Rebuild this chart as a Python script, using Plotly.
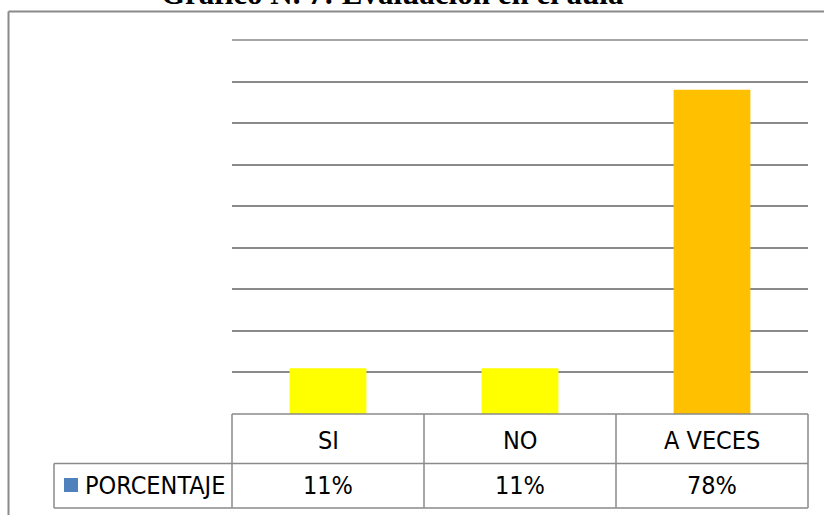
import plotly.graph_objects as go

# datos del grafico
categorias = ["SI", "NO", "A VECES"]
porcentaje = [0.11, 0.11, 0.78]
colores = ["#FFFF00", "#FFFF00", "#FFC000"]
serie = "PORCENTAJE"
titulo = "Gráfico N. 7: Evaluación en el aula"

W, H = 824, 515
L, R, T, B = 232, 808, 40, 414  # plot area in pixels

def px(x):
    return (x - L) / (R - L)

def py(y):
    return (B - y) / (B - T)

narrow = "Liberation Sans Narrow, DejaVu Sans Condensed, Arial Narrow, sans-serif"
gris = "#8a8a8a"

fig = go.Figure(go.Bar(x=categorias, y=porcentaje, marker_color=colores,
                       marker_line_width=0, hoverinfo="none", showlegend=False))

shapes = []
def linea(x0, y0, x1, y1, w=1.5):
    shapes.append(dict(type="line", xref="paper", yref="paper",
                       x0=px(x0), y0=py(y0), x1=px(x1), y1=py(y1),
                       line=dict(color=gris, width=w)))

# marco exterior
linea(8.5, 11.5, 830, 11.5, 2)
linea(8.5, 11.5, 8.5, 530, 2)

# linea superior (0.9)
linea(L, T, R, T)

# tabla de datos
linea(L, B, R, B)
linea(54, 463.5, R, 463.5)
linea(54, 508, R, 508)
linea(54, 463.5, 54, 508)
for x in [L, 424, 616, R]:
    linea(x, B, x, 508)

# cuadro de leyenda
shapes.append(dict(type="rect", xref="paper", yref="paper",
                   x0=px(64), x1=px(78), y0=py(478), y1=py(492),
                   fillcolor="#4F81BD", line_width=0))

fuente = dict(family=narrow, size=25, color="black")
annotations = []
for c, v in zip(categorias, porcentaje):
    annotations.append(dict(x=c, xref="x", y=py(440), yref="paper", text=c,
                            xanchor="center", yanchor="middle", showarrow=False, font=fuente))
    annotations.append(dict(x=c, xref="x", y=py(485.5), yref="paper", text=f"{v:.0%}",
                            xanchor="center", yanchor="middle", showarrow=False, font=fuente))
annotations.append(dict(x=px(83), xref="paper", y=py(485.5), yref="paper", text=serie,
                        xanchor="left", yanchor="middle", showarrow=False, font=fuente))
annotations.append(dict(x=px(392), xref="paper", y=py(12.5), yref="paper", text="<b>" + titulo + "</b>",
                        xanchor="center", yanchor="bottom", showarrow=False,
                        font=dict(family="Liberation Serif, Times New Roman, serif", size=31, color="black")))

fig.update_layout(
    width=W, height=H,
    margin=dict(l=L, r=W - R, t=T, b=H - B),
    plot_bgcolor="white", paper_bgcolor="white",
    bargap=0.6,
    xaxis=dict(range=[-0.5, 2.5], showticklabels=False, showgrid=False,
               zeroline=False, showline=False, ticks=""),
    yaxis=dict(range=[0, 0.9], dtick=0.1, showticklabels=False, showgrid=True,
               gridcolor=gris, gridwidth=1.5, zeroline=False, showline=False, ticks=""),
    shapes=shapes,
    annotations=annotations,
)

fig.write_html("out.html", config={"displayModeBar": False},
               post_script="document.body.style.margin='0';")
